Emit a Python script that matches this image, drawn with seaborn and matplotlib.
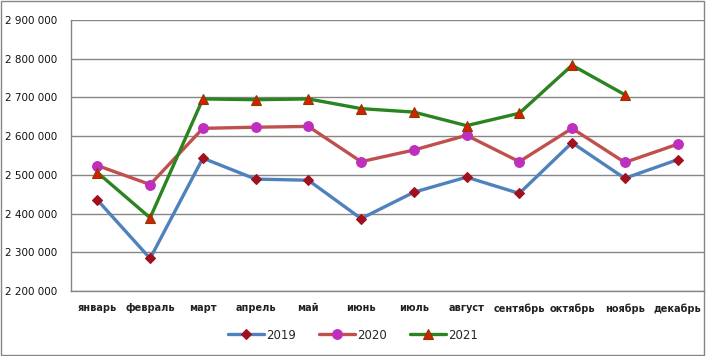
import numpy as np
import pandas as pd
import seaborn as sns
import matplotlib.pyplot as plt
from matplotlib.patches import Rectangle
from matplotlib.ticker import FuncFormatter, FixedLocator

months = ['январь', 'февраль', 'март', 'апрель', 'май', 'июнь',
          'июль', 'август', 'сентябрь', 'октябрь', 'ноябрь', 'декабрь']
y2019 = [2435000, 2284000, 2543000, 2489000, 2486000, 2387000,
         2455000, 2494000, 2452000, 2583000, 2491000, 2539000]
y2020 = [2524000, 2475000, 2620000, 2623000, 2625000, 2534000,
         2564000, 2602000, 2534000, 2620000, 2532000, 2579000]
y2021 = [2506000, 2389000, 2696000, 2694000, 2696000, 2671000,
         2662000, 2627000, 2659000, 2783000, 2707000, np.nan]

sns.set_style('white')
plt.rcParams['font.family'] = ['DejaVu Sans']

df = pd.DataFrame({'x': np.arange(len(months)), '2019': y2019, '2020': y2020, '2021': y2021})

fig, ax = plt.subplots(figsize=(7.06, 3.56), dpi=100)
fig.subplots_adjust(left=0.1006, right=0.997, top=0.944, bottom=0.1826)

styles = {
    '2019': dict(color='#4F81BD', marker='D', ms=5, mfc='#A0101E', mec='#A0101E'),
    '2020': dict(color='#C0504D', marker='o', ms=7, mfc='#BE2FBE', mec='#BE2FBE'),
    '2021': dict(color='#2A8420', marker='^', ms=7.5, mfc='#D62000', mec='#8B3A00'),
}
for name, st in styles.items():
    sns.lineplot(data=df, x='x', y=name, ax=ax, color=st['color'], linewidth=2.4,
                 marker=st['marker'], markersize=st['ms'], markerfacecolor=st['mfc'],
                 markeredgecolor=st['mec'], markeredgewidth=0.8, label=name)

ax.set_xlim(-0.5, 11.5)
ax.set_ylim(2200000, 2900000)
ax.set_yticks(np.arange(2200000, 2900001, 100000))
ax.yaxis.set_major_formatter(FuncFormatter(lambda v, p: f'{int(v):,}'.replace(',', ' ')))
ax.set_xticks(np.arange(12))
ax.set_xticklabels(months, fontsize=7, fontweight='bold', color='#222222')
ax.xaxis.set_minor_locator(FixedLocator(np.arange(-0.5, 12, 1)))
ax.tick_params(axis='x', which='major', length=0, pad=9)
ax.tick_params(axis='x', which='minor', length=5, color='#868686', width=1, direction='out')
ax.tick_params(axis='y', length=5, color='#868686', width=1, direction='out', labelsize=7.5, pad=5,
               labelcolor='#111111')
ax.set_xlabel('')
ax.set_ylabel('')
ax.grid(axis='y', color='#868686', linewidth=1)
ax.set_axisbelow(True)
for s in ['top', 'right']:
    ax.spines[s].set_visible(False)
for s in ['left', 'bottom']:
    ax.spines[s].set_color('#868686')
    ax.spines[s].set_linewidth(1)

ax.legend_.remove()
h, l = ax.get_legend_handles_labels()
leg = fig.legend(h, l, loc='center', bbox_to_anchor=(0.5, 0.058), ncol=3, frameon=False,
                 handlelength=2.6, columnspacing=1.6, handletextpad=0.2)
for t in leg.get_texts():
    t.set_fontsize(8.5)

fig.add_artist(Rectangle((0.002, 0.003), 0.995, 0.993, transform=fig.transFigure,
                         fill=False, edgecolor='#868686', linewidth=1))

fig.savefig('out.png', dpi=100)
